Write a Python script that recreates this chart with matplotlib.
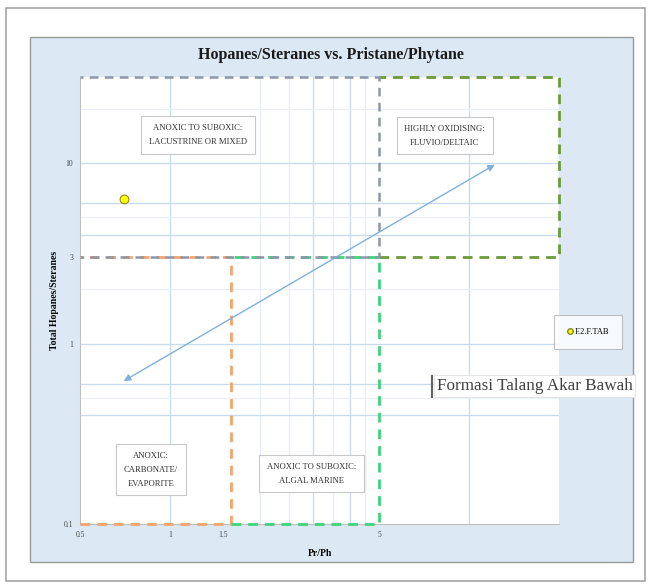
import numpy as np
import matplotlib.pyplot as plt
from matplotlib.patches import Rectangle
from matplotlib.lines import Line2D

# data
sample_names = ["F.2.F.TAB"]
pr_ph = [0.70]
hop_ster = [6.3]

x_ticks = [0.5, 1, 1.5, 5]
x_tick_labels = ["0.5", "1", "1.5", "5"]
y_ticks = [0.1, 1, 3, 10]
y_tick_labels = ["0.1", "1", "3", "10"]

x_grid_major = [1, 3, 4, 10]
x_grid_minor = [2, 2.5, 3.5, 4.5]
y_grid_major = [0.4, 0.6, 1, 4, 6, 10]
y_grid_minor = [0.5, 2, 5, 20]

arrow_start = (0.70, 0.62)
arrow_end = (12.2, 9.8)

x_lim = (0.5, 20)
y_lim = (0.1, 30)
pr_ph_cut1 = 1.6
pr_ph_cut2 = 5
hs_cut = 3

zone_labels = [
    ("ANOXIC TO SUBOXIC:\nLACUSTRINE OR MIXED", 1.24, 14.3),
    ("HIGHLY OXIDISING:\nFLUVIO/DELTAIC", 8.3, 14.2),
    ("ANOXIC:\nCARBONATE/\nEVAPORITE", 0.865, 0.20),
    ("ANOXIC TO SUBOXIC:\nALGAL MARINE", 2.97, 0.19),
]

serif = ["Liberation Serif", "DejaVu Serif"]
plt.rcParams['font.family'] = serif

fig = plt.figure(figsize=(6.48, 5.85), dpi=100)
W, H = 648, 585

# outer frame and chart area
fig.add_artist(Rectangle((6 / W, 1 - 581 / H), 639 / W, 573 / H, transform=fig.transFigure,
                         facecolor='white', edgecolor='#a6a6a6', lw=1.2, zorder=-10))
fig.add_artist(Rectangle((30 / W, 1 - 562 / H), 603 / W, 525 / H, transform=fig.transFigure,
                         facecolor='#dce9f5', edgecolor='#9a9a9a', lw=1.0, zorder=-9))

ax = fig.add_axes([80 / W, 1 - 524 / H, 479 / W, 447 / H])
ax.set_zorder(1)
ax.set_xscale('log')
ax.set_yscale('log')
ax.set_xlim(*x_lim)
ax.set_ylim(*y_lim)
ax.set_facecolor('white')

for v in x_grid_major:
    ax.axvline(v, color='#c6daf0', lw=0.9, zorder=1)
for v in x_grid_minor:
    ax.axvline(v, color='#e6eef8', lw=0.9, zorder=1)
for v in y_grid_major:
    ax.axhline(v, color='#c6daf0', lw=0.9, zorder=1)
for v in y_grid_minor:
    ax.axhline(v, color='#e9f0f9', lw=0.9, zorder=1)

orange = '#f4a46a'
lgreen = '#3dd47a'
dgreen = '#6a9a3c'
gray = '#8c96a8'
dash = (0, (3.5, 2.5))

# orange box (anoxic carbonate)
ax.plot([x_lim[0], pr_ph_cut1, pr_ph_cut1, x_lim[0]], [y_lim[0], y_lim[0], hs_cut, hs_cut],
        color=orange, lw=2.0, ls=dash, zorder=3, clip_on=False)
# light green box (algal marine)
ax.plot([pr_ph_cut1, pr_ph_cut2, pr_ph_cut2, pr_ph_cut1], [y_lim[0], y_lim[0], hs_cut, hs_cut],
        color=lgreen, lw=2.0, ls=dash, zorder=3, clip_on=False)
# dark green box (fluvio/deltaic)
ax.plot([pr_ph_cut2, x_lim[1], x_lim[1], pr_ph_cut2], [hs_cut, hs_cut, y_lim[1], y_lim[1]],
        color=dgreen, lw=2.0, ls=dash, zorder=3, clip_on=False)
# gray box (lacustrine or mixed)
ax.plot([x_lim[0], pr_ph_cut2, pr_ph_cut2, x_lim[0]], [hs_cut, hs_cut, y_lim[1], y_lim[1]],
        color=gray, lw=1.8, ls=(2, (3.5, 2.5)), zorder=4, clip_on=False)

# trend arrow
ax.annotate('', xy=arrow_start, xytext=arrow_end,
            arrowprops=dict(arrowstyle='<|-|>', color='#7fb0e0', lw=1.0,
                            mutation_scale=10, shrinkA=0, shrinkB=0), zorder=5)

ax.scatter(pr_ph, hop_ster, s=40, color='#ffff00', edgecolor='#8a8a20', lw=0.8, zorder=6)

for txt, x, y in zone_labels:
    t = ax.text(x, y, txt, ha='center', va='center', fontsize=6.2, color='#333333', zorder=7,
                linespacing=2.0,
                bbox=dict(boxstyle='square,pad=0.9', facecolor='white', edgecolor='#c8c8c8', lw=0.8))

ax.set_xticks(x_ticks)
ax.set_xticklabels(x_tick_labels)
ax.set_yticks(y_ticks)
ax.set_yticklabels(y_tick_labels)
ax.xaxis.set_minor_locator(plt.NullLocator())
ax.yaxis.set_minor_locator(plt.NullLocator())
ax.tick_params(length=0, labelsize=5.5, colors='#444444', pad=5)
for s in ['top', 'right']:
    ax.spines[s].set_visible(False)
for s in ['left', 'bottom']:
    ax.spines[s].set_color('#bfbfbf')

ax.set_xlabel('Pr/Ph', fontsize=7, fontweight='bold', labelpad=7)
ax.set_ylabel('Total Hopanes/Steranes', fontsize=7, fontweight='bold', labelpad=3)

fig.text(331 / W, 1 - 55 / H, 'Hopanes/Steranes vs. Pristane/Phytane', ha='center', va='center',
         fontsize=11.5, fontweight='bold', color='#1a1a1a')

# legend
leg = ax.legend([Line2D([], [], marker='o', ls='', markerfacecolor='#ffff00',
                        markeredgecolor='#8a8a20', markersize=4)],
                sample_names, loc='center', bbox_to_anchor=(588 / W, 1 - 332 / H),
                bbox_transform=fig.transFigure, fontsize=6, frameon=True, fancybox=False,
                handletextpad=0.1, borderpad=1.6, borderaxespad=0, handlelength=0.8)
leg.get_frame().set_edgecolor('#b0b0b0')
leg.get_frame().set_linewidth(0.8)
leg.set_zorder(10)

fig.text(437 / W, 1 - 386 / H, 'Formasi Talang Akar Bawah', ha='left', va='center',
         fontsize=12.3, color='#404040', zorder=10,
         bbox=dict(boxstyle='square,pad=0.15', facecolor='white', edgecolor='#e0e0e0', lw=0.6))
fig.add_artist(Line2D([432 / W, 432 / W], [1 - 376 / H, 1 - 397 / H], color='#606060', lw=1.5,
                      zorder=10))

fig.savefig('out.png', dpi=100)
